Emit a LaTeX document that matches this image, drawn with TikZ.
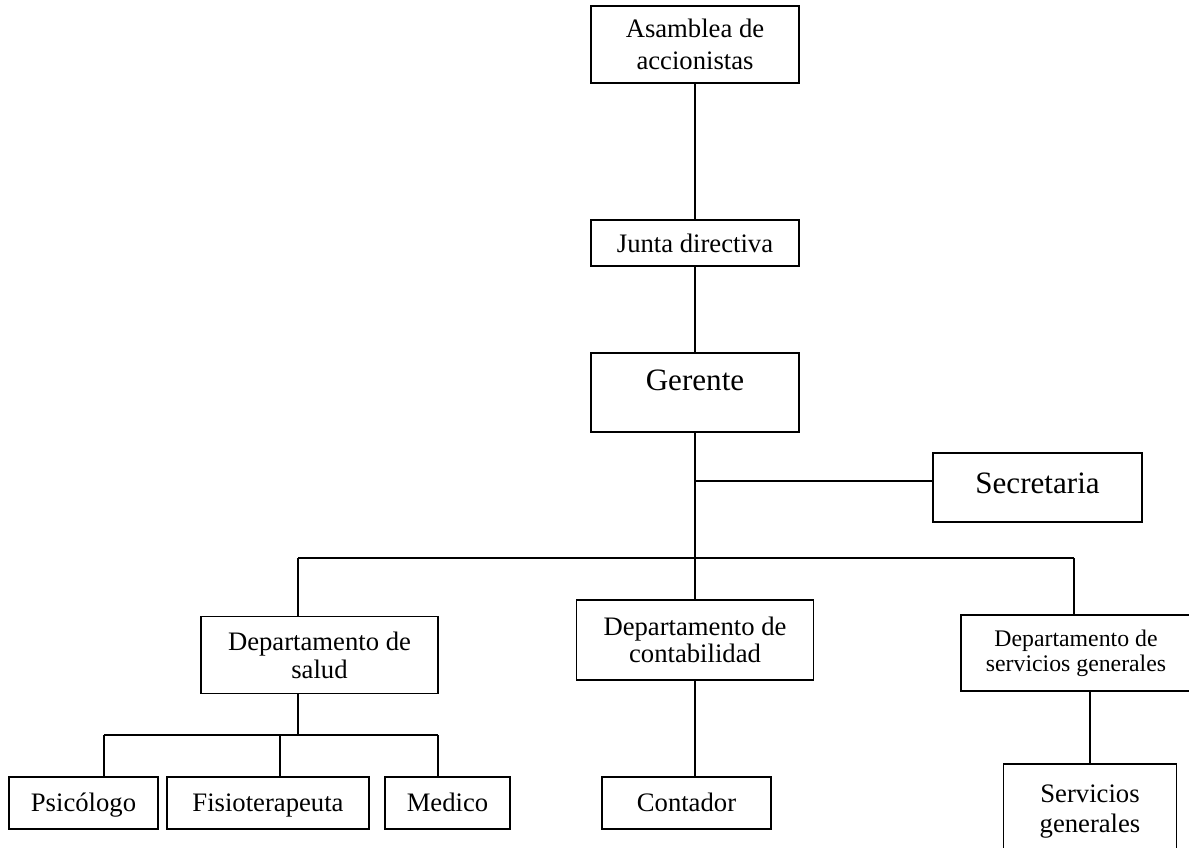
\documentclass[tikz,border=0pt]{standalone}
\usepackage{fontspec}
\setmainfont{Liberation Serif}
\begin{document}
\begin{tikzpicture}[x=0.45pt,y=-0.45pt,
  box/.style={draw=black,line width=0.85pt,rectangle,inner sep=0pt,align=center,
    font=\fontsize{12}{12.6}\selectfont},
  leaf/.style={box,minimum height=23.4pt,text height=8.2pt,text depth=0.5pt},
  conn/.style={draw=black,line width=0.85pt}]
\useasboundingbox (0,0) rectangle (1189,848);
% top chain
\node[box,minimum width=93.6pt,minimum height=34.65pt,font=\fontsize{12}{14.3}\selectfont] (asm) at (695,44.5) {Asamblea de\\accionistas};
\node[box,minimum width=93.6pt,minimum height=20.7pt] (jun) at (695,243) {Junta directiva};
\node[box,minimum width=93.6pt,minimum height=35.55pt,font=\fontsize{14}{16}\selectfont,text height=9.5pt,text depth=11.7pt] (ger) at (695,392.5) {Gerente};
\node[box,minimum width=94.05pt,minimum height=31.05pt,font=\fontsize{14}{16}\selectfont,text height=9.3pt,text depth=4.3pt] (sec) at (1037.5,487.5) {Secretaria};
% departments
\node[box,minimum width=106.65pt,minimum height=34.65pt] (ds) at (319.5,655) {Departamento de\\salud};
\node[box,minimum width=106.65pt,minimum height=36pt,font=\fontsize{12}{12.3}\selectfont] (dc) at (695,640) {Departamento de\\contabilidad};
\node[box,minimum width=103.5pt,minimum height=34.2pt,font=\fontsize{10.7}{11.3}\selectfont] (dsg) at (1076,653) {Departamento de\\servicios generales};
% bottom row
\node[leaf,minimum width=67.05pt] (psi) at (83.5,803) {Psicólogo};
\node[leaf,minimum width=90.9pt] (fis) at (268,803) {Fisioterapeuta};
\node[leaf,minimum width=56.25pt] (med) at (447.5,803) {Medico};
\node[leaf,minimum width=76.05pt] (ctr) at (686.5,803) {Contador};
\node[box,minimum width=77.85pt,minimum height=43.2pt,font=\fontsize{12}{13.5}\selectfont] (sg) at (1090,812) {Servicios\\generales};
% junction points
\coordinate (secj) at (695,481);
\coordinate (busL) at (298,558);
\coordinate (busR) at (1074,558);
\coordinate (sub) at (298,735);
\coordinate (subL) at (104,735);
\coordinate (subM) at (280,735);
\coordinate (subR) at (438,735);
% connectors
\draw[conn] (asm) -- (jun);
\draw[conn] (jun) -- (ger);
\draw[conn] (ger.south) -- (dc.north);
\draw[conn] (secj) -- (secj -| sec.west);
\draw[conn] (busL) -- (busR);
\draw[conn] (busL) -- (busL |- ds.north);
\draw[conn] (busR) -- (busR |- dsg.north);
\draw[conn] (busL |- ds.south) -- (sub);
\draw[conn] (subL) -- (subR);
\draw[conn] (subL) -- (subL |- psi.north);
\draw[conn] (subM) -- (subM |- fis.north);
\draw[conn] (subR) -- (subR |- med.north);
\draw[conn] (dc.south) -- (dc.south |- ctr.north);
\draw[conn] (sg.north) -- (sg.north |- dsg.south);
\end{tikzpicture}
\end{document}
